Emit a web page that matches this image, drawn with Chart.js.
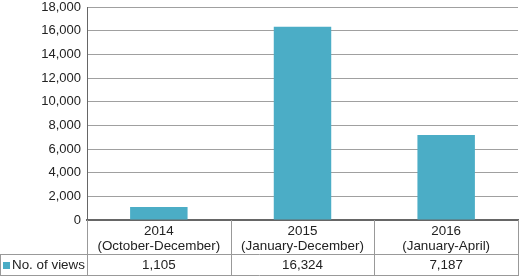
<!DOCTYPE html>
<html>
<head>
<meta charset="utf-8">
<script src="https://cdn.jsdelivr.net/npm/chart.js@4"></script>
<style>
  html, body { margin: 0; padding: 0; background: #fff; }
  #wrap { width: 520px; height: 277px; }
</style>
</head>
<body>
<div id="wrap"><canvas id="chart" width="520" height="277"></canvas></div>
<script>
// data
const categories = [
  ['2014', '(October-December)'],
  ['2015', '(January-December)'],
  ['2016', '(January-April)']
];
const seriesName = 'No. of views';
const views = [1105, 16324, 7187];
const valueLabels = ['1,105', '16,324', '7,187'];

const barColor = '#4badc6';
const FONT = '"Liberation Sans", Arial, sans-serif';

// draws the data table under the plot
const dataTable = {
  id: 'dataTable',
  afterDraw(chart) {
    const { ctx, chartArea: a, scales: { x } } = chart;
    const top = a.bottom, mid = 254, bot = 275;
    const n = categories.length;
    const colW = (a.right - a.left) / n;
    ctx.save();
    ctx.strokeStyle = '#999';
    ctx.lineWidth = 1;
    ctx.beginPath();
    // verticals
    for (let i = 0; i <= n; i++) {
      const px = Math.round(a.left + i * colW) + 0.5;
      ctx.moveTo(px, top); ctx.lineTo(px, bot);
    }
    ctx.moveTo(0.5, mid); ctx.lineTo(0.5, bot);
    // horizontals
    ctx.moveTo(0, mid + 0.5); ctx.lineTo(a.right + 1, mid + 0.5);
    ctx.moveTo(0, bot + 0.5); ctx.lineTo(a.right + 1, bot + 0.5);
    ctx.stroke();

    ctx.fillStyle = '#222';
    ctx.font = '13.4px ' + FONT;
    ctx.textAlign = 'center';
    ctx.textBaseline = 'middle';
    categories.forEach((c, i) => {
      const cx = x.getPixelForValue(i);
      ctx.fillText(c[0], cx, 231);
      ctx.fillText(c[1], cx, 246);
      ctx.fillText(valueLabels[i], cx, 265.5);
    });
    // legend key
    ctx.fillStyle = barColor;
    ctx.fillRect(3, 262, 7, 7);
    ctx.fillStyle = '#222';
    ctx.textAlign = 'left';
    ctx.fillText(seriesName, 12, 265.5);
    ctx.restore();
  }
};

new Chart(document.getElementById('chart').getContext('2d'), {
  type: 'bar',
  data: {
    labels: categories,
    datasets: [{
      label: seriesName,
      data: views,
      backgroundColor: barColor,
      borderWidth: 0,
      categoryPercentage: 1,
      barPercentage: 0.4
    }]
  },
  options: {
    responsive: false,
    animation: false,
    layout: { padding: { left: 0, right: 2, top: 7, bottom: 57 } },
    plugins: {
      legend: { display: false },
      tooltip: { enabled: false }
    },
    scales: {
      x: {
        display: true,
        grid: { display: false, drawTicks: false },
        border: { display: true, color: '#666', width: 2 },
        ticks: { display: false }
      },
      y: {
        min: 0,
        max: 18000,
        afterFit: (s) => { s.width = 87; s.paddingTop = 0; s.paddingBottom = 0; },
        grid: { color: '#a0a0a0', lineWidth: 1, drawTicks: false },
        border: { display: true, color: '#666', width: 1 },
        ticks: {
          stepSize: 2000,
          padding: 6,
          color: '#222',
          font: { family: FONT, size: 13 },
          callback: (v) => v.toLocaleString('en-US')
        }
      }
    }
  },
  plugins: [dataTable]
});
</script>
</body>
</html>
